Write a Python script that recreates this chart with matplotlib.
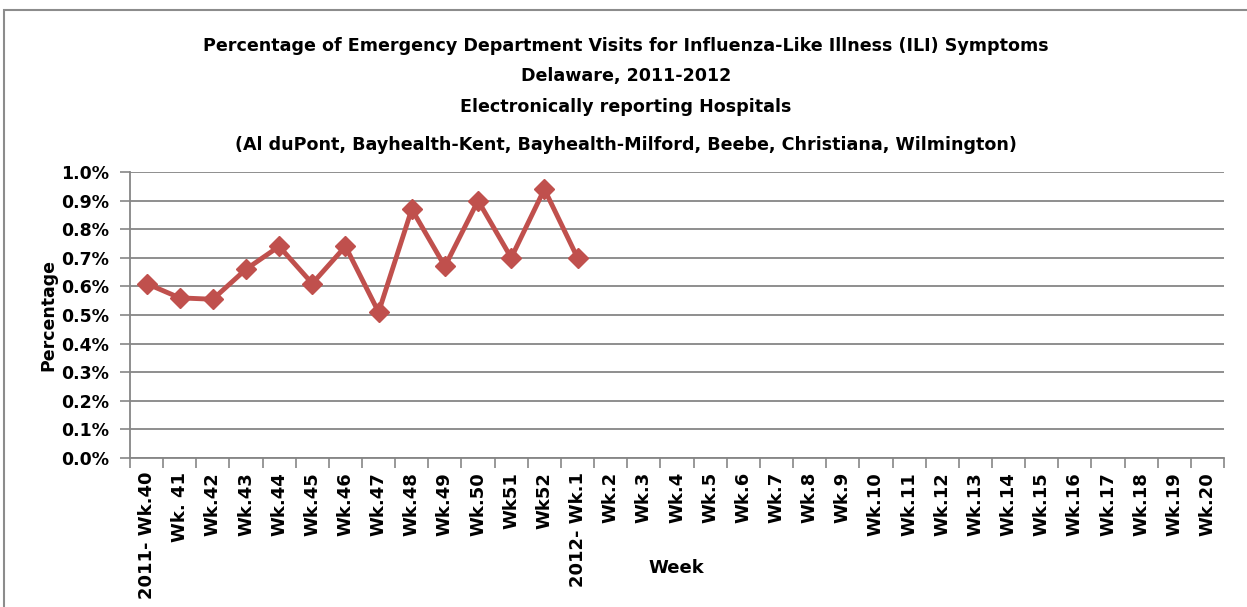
import matplotlib
matplotlib.use("Agg")
import matplotlib.pyplot as plt
from matplotlib.patches import Rectangle
from matplotlib.ticker import FuncFormatter, MultipleLocator

# Week categories on the x axis.
weeks = (
    ["2011- Wk.40", "Wk. 41"]
    + [f"Wk.{w}" for w in range(42, 51)]
    + ["Wk51", "Wk52", "2012- Wk.1"]
    + [f"Wk.{w}" for w in range(2, 21)]
)

# Percentage of ED visits for ILI (only reported weeks so far).
ili_percent = [0.61, 0.56, 0.555, 0.66, 0.74, 0.61, 0.74, 0.51, 0.87, 0.67, 0.90, 0.70, 0.94, 0.70]

title_lines = [
    "Percentage of Emergency Department Visits for Influenza-Like Illness (ILI) Symptoms",
    "Delaware, 2011-2012",
    "Electronically reporting Hospitals",
    "(Al duPont, Bayhealth-Kent, Bayhealth-Milford, Beebe, Christiana, Wilmington)",
]

plt.rcParams["font.family"] = "DejaVu Sans"

fig = plt.figure(figsize=(12.47, 6.07), dpi=100)
ax = fig.add_axes([0.1042, 0.2455, 0.8774, 0.4711])

# Outer chart frame.
fig.patches.append(
    Rectangle((0.003, -0.05), 1.05, 1.034, transform=fig.transFigure,
              fill=False, edgecolor="#8c8c8c", linewidth=1.5)
)

# Title lines.
for line, y in zip(title_lines, [0.924, 0.874, 0.824, 0.761]):
    fig.text(0.502, y, line, ha="center", va="center", fontsize=12.6, fontweight="bold")

x = list(range(len(weeks)))
ax.plot(x[:len(ili_percent)], ili_percent, color="#C0504D", linewidth=3.5,
        marker="D", markersize=10, markeredgecolor="#C0504D")

ax.set_xlim(-0.5, len(weeks) - 0.5)
ax.set_ylim(0, 1.0)
ax.yaxis.set_major_locator(MultipleLocator(0.1))
ax.yaxis.set_major_formatter(FuncFormatter(lambda v, p: f"{v:.1f}%"))
ax.grid(axis="y", color="#868686", linewidth=1.3)
ax.set_axisbelow(True)

ax.set_xticks(x)
ax.set_xticklabels(weeks, rotation=90, fontsize=13, fontweight="bold")
ax.set_xticks([i - 0.5 for i in range(len(weeks) + 1)], minor=True)
ax.tick_params(axis="x", which="major", length=0, pad=10)
ax.tick_params(axis="x", which="minor", length=7, color="#868686", width=1.2)
ax.tick_params(axis="y", length=7, color="#868686", width=1.2, labelsize=12.5, pad=8)
for lbl in ax.get_yticklabels():
    lbl.set_fontweight("bold")

for side in ["top", "right"]:
    ax.spines[side].set_visible(False)
for side in ["left", "bottom"]:
    ax.spines[side].set_color("#868686")
    ax.spines[side].set_linewidth(1.3)

ax.set_ylabel("Percentage", fontsize=12.5, fontweight="bold", labelpad=3)
fig.text(0.542, 0.064, "Week", ha="center", va="center", fontsize=13, fontweight="bold")

fig.savefig("out.png", dpi=100)
